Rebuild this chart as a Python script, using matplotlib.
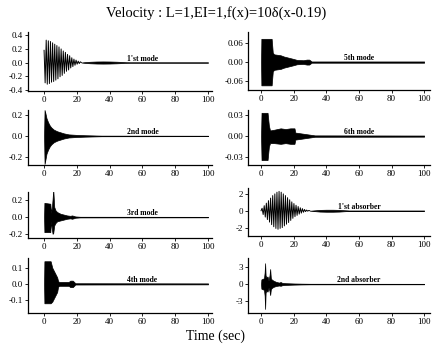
import matplotlib
matplotlib.use('Agg')
import matplotlib.pyplot as plt

plt.rcParams['font.family'] = ['Liberation Serif', 'DejaVu Serif']

# ---- data ----
# 1'st mode: successive extremes of the main oscillation, then envelope of the tail
m1_zt = [0.0, 0.65, 1.3, 1.95, 2.6, 3.25, 3.9, 4.55, 5.2, 5.85, 6.5, 7.15, 7.8, 8.45, 9.1, 9.75,
         10.4, 11.05, 11.7, 12.35, 13.0, 13.65, 14.3, 14.95, 15.6, 16.25, 16.9, 17.55, 18.2,
         18.85, 19.5, 20.15, 20.8, 21.45, 22.1, 22.75]
m1_zv = [0.18, -0.30, 0.33, -0.32, 0.32, -0.31, 0.31, -0.29, 0.29, -0.28, 0.27, -0.26, 0.25, -0.24,
         0.23, -0.21, 0.20, -0.19, 0.17, -0.16, 0.15, -0.13, 0.12, -0.11, 0.10, -0.08, 0.07, -0.06,
         0.05, -0.04, 0.035, -0.025, 0.02, -0.015, 0.01, 0.0]
m1_t = [22.75, 25, 28, 32, 36, 40, 44, 48, 50, 52, 100]
m1_hi = [0.0, 0.006, 0.011, 0.015, 0.016, 0.015, 0.012, 0.008, 0.004, 0.002, 0.002]
m1_lo = [0.0, -0.006, -0.011, -0.015, -0.016, -0.015, -0.012, -0.008, -0.004, -0.002, -0.002]

# 2nd mode envelope
m2_t = [0, 0.3, 0.8, 1.5, 2.5, 3.5, 4.5, 6, 8, 10, 12, 15, 20, 25, 30, 35, 100]
m2_hi = [0, 0.25, 0.22, 0.17, 0.13, 0.10, 0.08, 0.06, 0.045, 0.035, 0.025, 0.015, 0.01, 0.007, 0.005, 0.003, 0.002]
m2_lo = [0, -0.27, -0.23, -0.17, -0.13, -0.10, -0.08, -0.06, -0.045, -0.035, -0.025, -0.015, -0.01, -0.007, -0.005, -0.003, -0.002]

# 3rd mode envelope
m3_t = [0, 0.2, 3.8, 4.3, 4.8, 5.2, 5.6, 6.2, 7, 8, 10, 12, 14, 16, 17, 18, 19, 22, 100]
m3_hi = [0, 0.17, 0.16, 0.05, 0.12, 0.22, 0.33, 0.12, 0.08, 0.06, 0.04, 0.03, 0.02, 0.015, 0.02, 0.015, 0.008, 0.004, 0.003]
m3_lo = [0, -0.18, -0.18, -0.05, -0.15, -0.20, -0.19, -0.10, -0.07, -0.05, -0.04, -0.03, -0.02, -0.015, -0.02, -0.015, -0.008, -0.004, -0.003]

# 4th mode envelope
m4_t = [0, 0.2, 4.0, 5.0, 6.0, 7.0, 8.0, 8.5, 9.0, 15, 16, 17.5, 18.5, 19, 100]
m4_hi = [0, 0.14, 0.14, 0.10, 0.08, 0.06, 0.04, 0.02, 0.012, 0.012, 0.02, 0.02, 0.01, 0.004, 0.003]
m4_lo = [0, -0.12, -0.12, -0.11, -0.09, -0.07, -0.05, -0.02, -0.012, -0.012, -0.02, -0.02, -0.01, -0.004, -0.003]

# 5th mode envelope
m5_t = [0, 0.2, 6.5, 7.2, 8, 12, 14, 17, 20, 22, 26, 28, 29.5, 31, 100]
m5_hi = [0, 0.075, 0.075, 0.03, 0.025, 0.022, 0.018, 0.014, 0.01, 0.007, 0.006, 0.008, 0.008, 0.002, 0.002]
m5_lo = [0, -0.075, -0.075, -0.03, -0.025, -0.022, -0.018, -0.014, -0.01, -0.007, -0.006, -0.008, -0.008, -0.002, -0.002]

# 6th mode envelope
m6_t = [0, 0.3, 4.0, 4.8, 5.5, 8, 12, 15, 18, 20.5, 21, 24, 27, 30, 33, 100]
m6_hi = [0, 0.033, 0.033, 0.015, 0.008, 0.009, 0.011, 0.010, 0.011, 0.011, 0.005, 0.004, 0.003, 0.002, 0.001, 0.0008]
m6_lo = [0, -0.034, -0.034, -0.015, -0.010, -0.010, -0.011, -0.010, -0.011, -0.011, -0.005, -0.004, -0.003, -0.002, -0.001, -0.0008]

# 1'st absorber: extremes, then tail envelope
a1_zt = [0.0, 0.65, 1.3, 1.95, 2.6, 3.25, 3.9, 4.55, 5.2, 5.85, 6.5, 7.15, 7.8, 8.45, 9.1, 9.75,
         10.4, 11.05, 11.7, 12.35, 13.0, 13.65, 14.3, 14.95, 15.6, 16.25, 16.9, 17.55, 18.2,
         18.85, 19.5, 20.15, 20.8, 21.45, 22.1, 22.75, 23.4, 24.05, 24.7, 25.35, 26.0, 26.65,
         27.3, 27.95, 28.6, 29.25, 29.9]
a1_zv = [0.0, 0.3, -0.45, 0.6, -0.75, 0.9, -1.05, 1.2, -1.35, 1.5, -1.65, 1.8, -1.9, 2.0, -2.1, 2.2,
         -2.2, 2.3, -2.1, 2.2, -2.0, 2.0, -1.8, 1.8, -1.6, 1.55, -1.4, 1.3, -1.15,
         1.05, -0.9, 0.85, -0.7, 0.65, -0.55, 0.5, -0.4, 0.35, -0.28, 0.25, -0.18, 0.15,
         -0.1, 0.08, -0.05, 0.03, 0.0]
a1_t = [29.9, 33, 36, 40, 44, 48, 51, 54, 100]
a1_hi = [0, 0.05, 0.1, 0.12, 0.12, 0.1, 0.06, 0.03, 0.03]
a1_lo = [0, -0.05, -0.1, -0.12, -0.12, -0.1, -0.06, -0.03, -0.03]

# 2nd absorber envelope
a2_t = [0, 0.2, 1.8, 2.2, 2.5, 2.8, 3.2, 4.0, 4.6, 5.2, 5.6, 6.0, 6.5, 7.5, 9, 11, 12, 13, 15, 20, 25, 30, 100]
a2_hi = [0, 0.8, 1.0, 2.0, 3.6, 1.5, 1.2, 1.3, 0.6, 1.5, 2.6, 1.0, 0.8, 0.6, 0.4, 0.25, 0.35, 0.2, 0.15, 0.1, 0.07, 0.05, 0.04]
a2_lo = [0, -0.8, -1.0, -2.0, -4.3, -1.5, -1.2, -1.3, -0.6, -1.2, -1.9, -0.9, -0.7, -0.5, -0.35, -0.25, -0.3, -0.2, -0.15, -0.1, -0.07, -0.05, -0.04]

x_ticks = [0, 20, 40, 60, 80, 100]


def px_axes(fig, left, top, right, bottom):
    W, H = 432, 344
    return fig.add_axes([left / W, 1 - bottom / H, (right - left) / W, (bottom - top) / H])


def style(ax, xlim, ylim, yticks, ylabels, name):
    ax.set_xlim(*xlim)
    ax.set_ylim(*ylim)
    ax.set_xticks(x_ticks)
    ax.set_xticklabels([str(v) for v in x_ticks], fontsize=6.5)
    ax.set_yticks(yticks)
    ax.set_yticklabels(ylabels, fontsize=6.5)
    ax.spines['top'].set_visible(False)
    ax.spines['right'].set_visible(False)
    for s in ('left', 'bottom'):
        ax.spines[s].set_linewidth(0.9)
    ax.tick_params(direction='out', length=2, width=0.6, pad=1.5)
    ax.text(60, 0, name, fontsize=5.5, fontweight='bold', ha='center', va='bottom',
            transform=ax.transData)


def envelope(ax, t, hi, lo):
    ax.fill_between(t, lo, hi, color='black', edgecolor='black', linewidth=0.5)


fig = plt.figure(figsize=(4.32, 3.44), dpi=100)

ax = px_axes(fig, 28, 32, 212, 91)
ax.plot(m1_zt, m1_zv, color='black', lw=0.7)
envelope(ax, m1_t, m1_hi, m1_lo)
style(ax, (-9.8, 102.4), (-0.42, 0.45), [0.4, 0.2, 0.0, -0.2, -0.4],
      ['0.4', '0.2', '0.0', '-0.2', '-0.4'], "1'st mode")

ax = px_axes(fig, 28, 110, 212, 165)
envelope(ax, m2_t, m2_hi, m2_lo)
style(ax, (-9.8, 102.4), (-0.28, 0.25), [0.2, 0.0, -0.2], ['0.2', '0.0', '-0.2'], '2nd mode')

ax = px_axes(fig, 28, 192, 212, 238)
envelope(ax, m3_t, m3_hi, m3_lo)
style(ax, (-9.8, 102.4), (-0.25, 0.3), [0.2, 0.0, -0.2], ['0.2', '0.0', '-0.2'], '3rd mode')

ax = px_axes(fig, 28, 258, 212, 313)
envelope(ax, m4_t, m4_hi, m4_lo)
style(ax, (-9.8, 102.4), (-0.18, 0.16), [0.1, 0.0, -0.1], ['0.1', '0.0', '-0.1'], '4th mode')

ax = px_axes(fig, 248, 32, 430, 90)
envelope(ax, m5_t, m5_hi, m5_lo)
style(ax, (-8, 103.6), (-0.09, 0.097), [0.06, 0.0, -0.06], ['0.06', '0.00', '-0.06'], '5th mode')

ax = px_axes(fig, 248, 110, 430, 165)
envelope(ax, m6_t, m6_hi, m6_lo)
style(ax, (-8, 103.6), (-0.041, 0.037), [0.03, 0.0, -0.03], ['0.03', '0.00', '-0.03'], '6th mode')

ax = px_axes(fig, 248, 188, 430, 236)
ax.plot(a1_zt, a1_zv, color='black', lw=0.7)
envelope(ax, a1_t, a1_hi, a1_lo)
style(ax, (-8, 103.6), (-3, 2.7), [2, 0, -2], ['2', '0', '-2'], "1'st absorber")

ax = px_axes(fig, 248, 258, 430, 313)
envelope(ax, a2_t, a2_hi, a2_lo)
style(ax, (-8, 103.6), (-5, 4.5), [3, 0, -3], ['3', '0', '-3'], '2nd absorber')

fig.text(0.5, 1 - 13 / 344, 'Velocity : L=1,EI=1,f(x)=10\u03b4(x-0.19)', ha='center', va='center',
         fontsize=10.5)
fig.text(0.5, 1 - 336 / 344, 'Time (sec)', ha='center', va='center', fontsize=10)

fig.savefig('out.png', dpi=100)
